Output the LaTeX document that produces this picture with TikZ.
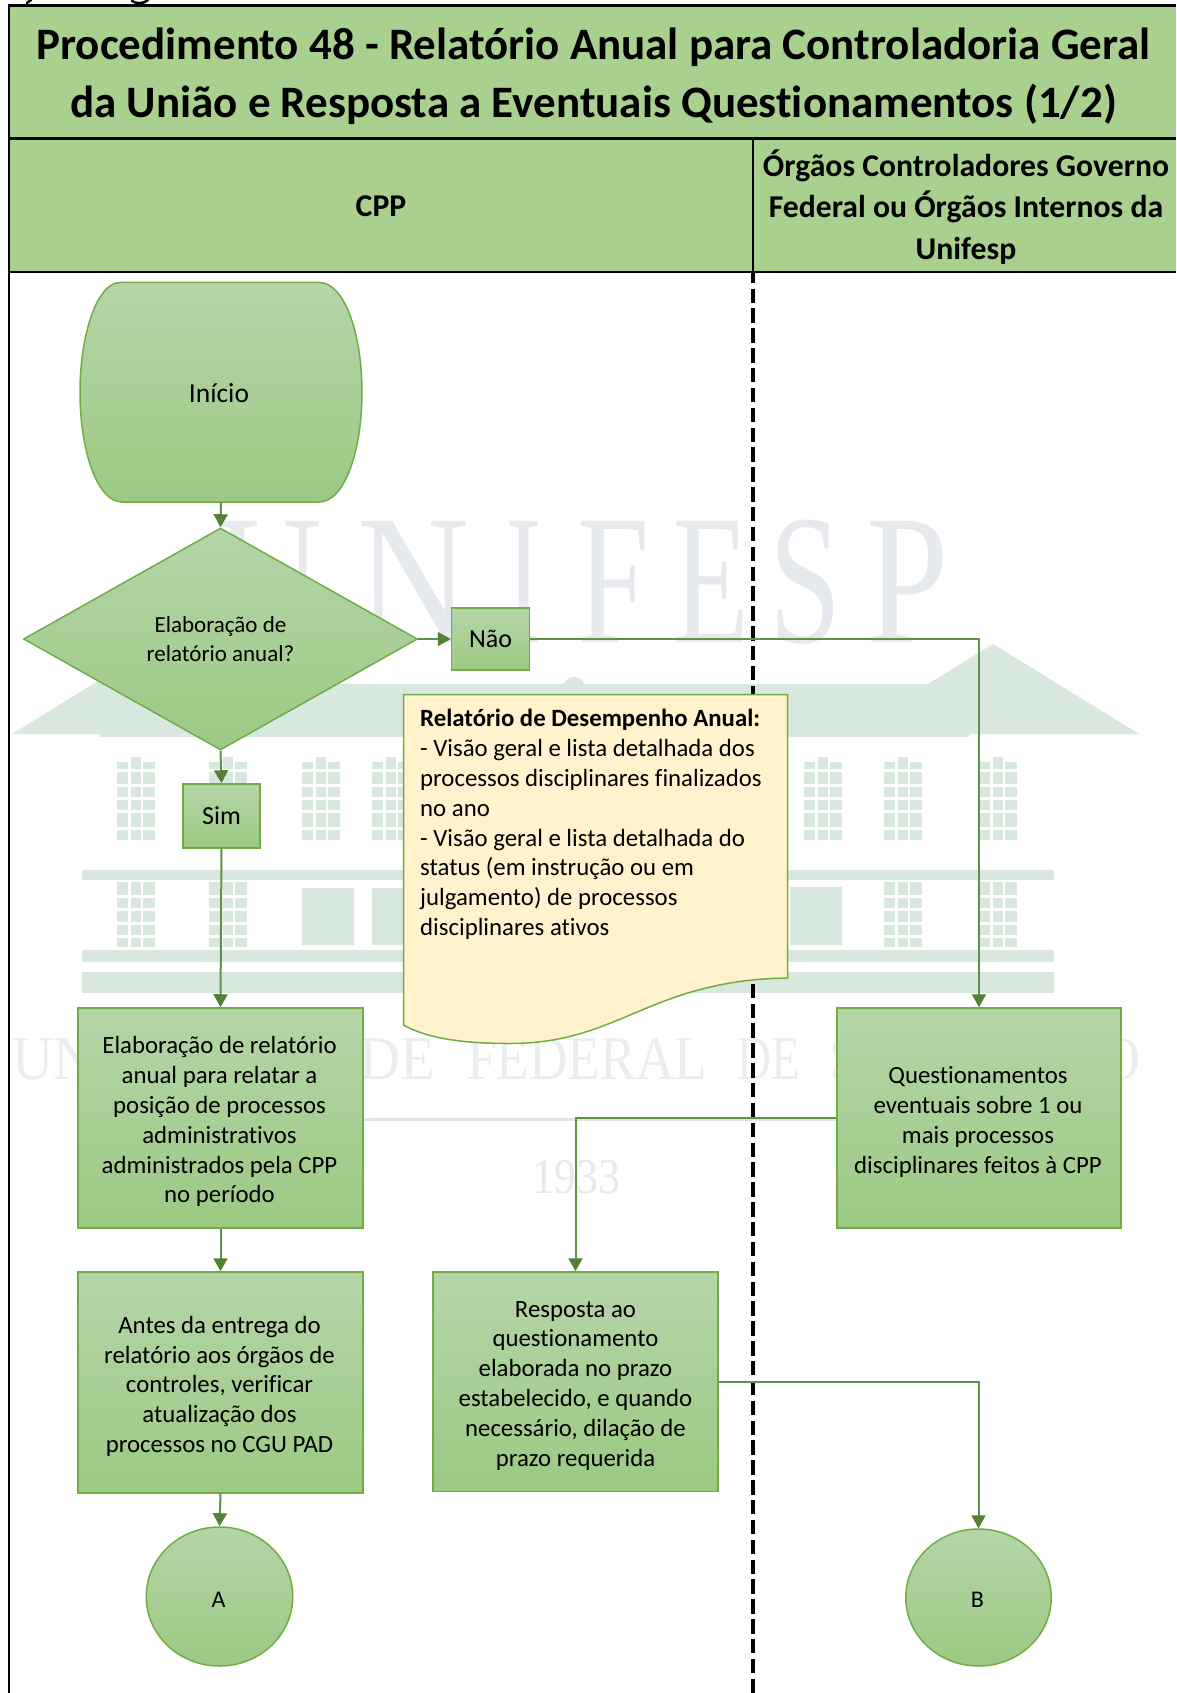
\documentclass[tikz,border=0pt]{standalone}
\usepackage{fontspec}
\usepackage{graphicx}
\setmainfont{Carlito}[Ligatures=NoCommon]
\newfontfamily\wmfont{Liberation Serif}
\usetikzlibrary{arrows.meta,shapes.geometric}
\definecolor{hdr}{HTML}{A9D08E}
\definecolor{gtop}{HTML}{B5D5A8}
\definecolor{gbot}{HTML}{9CC983}
\definecolor{gline}{HTML}{70AD47}
\definecolor{conn}{HTML}{5F9244}
\definecolor{head}{HTML}{548235}
\definecolor{docfill}{HTML}{FFF2CC}
\definecolor{wmgreen}{HTML}{D8E8DF}
\definecolor{wmgrey}{HTML}{E6EAEE}
\definecolor{wmpale}{HTML}{EBEEF1}
\tikzset{
  flowbox/.style={draw=gline,line width=1.5pt,top color=gtop,bottom color=gbot,shading angle=0,inner sep=0pt,align=center},
  boxtext/.style={inner sep=0pt,align=center,font=\fontsize{24.8}{29.8}\selectfont},
  smallbox/.style={flowbox,font=\fontsize{26}{30}\selectfont},
  headtext/.style={inner sep=0pt,align=center,font=\bfseries\fontsize{31.7}{41.5}\selectfont},
  titletext/.style={inner sep=0pt,align=center,font=\bfseries\fontsize{45}{58}\selectfont},
  conline/.style={draw=conn,line width=2pt,-{Triangle[length=13pt,width=14pt,fill=head,color=head]}},
  blackline/.style={draw=black,line width=2.5pt},
  wm/.style={fill=wmgreen,draw=none},
  wmletter/.style={inner sep=0pt,anchor=base,text=wmgrey,font=\wmfont\fontsize{185}{185}\selectfont},
  wmword/.style={inner sep=0pt,anchor=base west,text=wmpale,font=\wmfont\fontsize{62}{62}\selectfont}
}
\newcommand{\wmupper}[1]{%
  \begin{scope}[shift={(#1,757)}]
    \foreach \xa/\xb in {0/11,26/38}{\fill[wm] (\xa,4.5) rectangle (\xb,12);}
    \fill[wm] (13.5,0) rectangle (23.5,12);
    \foreach \ya/\yb in {15/27,30/40,42.5/52.5,56/70,73/83}{
      \foreach \xa/\xb in {0/11,13.5/23.5,26/38}{\fill[wm] (\xa,\ya) rectangle (\xb,\yb);}}
  \end{scope}}
\newcommand{\wmlower}[1]{%
  \begin{scope}[shift={(#1,882)}]
    \foreach \ya/\yb in {0/13,15.5/26,28.5/40,43/53,55.5/65}{
      \foreach \xa/\xb in {0/11,13.5/23.5,26/38}{\fill[wm] (\xa,\ya) rectangle (\xb,\yb);}}
  \end{scope}}
\begin{document}
\begin{tikzpicture}[x=1pt,y=-1pt]
\useasboundingbox (0,0) rectangle (1176,1693);
\fill[white] (0,0) rectangle (1176,1693);
% clipped remnants at the very top
\draw[line width=2.5pt,line cap=round] (31,0) -- (27,3);
\draw[line width=2.5pt,line cap=round] (132,1) .. controls (136,4) and (144,4) .. (148,0);
% watermark
\fill[wm] (12,734) -- (158,644) -- (223,684) -- (928,684) -- (993,644) -- (1139,734) -- (969,734) -- (969,737) -- (100,737) -- (100,734) -- cycle;
\fill[wm] (574,688) circle (11);
\foreach \x in {117,209,302,372,804,884,979}{\wmupper{\x}}
\foreach \x in {117,209,884,979}{\wmlower{\x}}
\fill[wm] (302,888) rectangle (354,945);
\fill[wm] (372,888) rectangle (424,945);
\fill[wm] (790,887) rectangle (842,945);
\fill[wm] (82,870) rectangle (1054,880);
\fill[wm] (82,950) rectangle (1054,962);
\fill[wm] (82,972) rectangle (1054,993);
\fill[wm] (82,1118) rectangle (1054,1120.5);
\node[wmletter] (wU) at (269,642) {\scalebox{.8}[1]{U}};
\node[wmletter] (wN) at (414,642) {\scalebox{.84}[1]{N}};
\node[wmletter] (wI) at (524,642) {\scalebox{.57}[1]{I}};
\node[wmletter] (wF) at (614,642) {\scalebox{.7}[1]{F}};
\node[wmletter] (wE) at (711,642) {\scalebox{.67}[1]{E}};
\node[wmletter] (wS) at (805,642) {\scalebox{.7}[1]{S}};
\node[wmletter] (wP) at (908,642) {\scalebox{.8}[1]{P}};
\node[wmword] (wuni) at (12,1079) {\resizebox{423pt}{\height}{UNIVERSIDADE}};
\node[wmword] (wfed) at (467,1079) {\resizebox{240pt}{\height}{FEDERAL}};
\node[wmword] (wde) at (737,1079) {\resizebox{63pt}{\height}{DE}};
\node[wmword] (wsao) at (830,1079) {\resizebox{100pt}{\height}{SÃO}};
\node[wmword] (wpau) at (960,1079) {\resizebox{180pt}{\height}{PAULO}};
\node[inner sep=0pt,anchor=base,text=wmgrey,font=\wmfont\fontsize{50}{50}\selectfont] (wyear) at (576,1193) {\scalebox{.88}[1]{1933}};
% header bands
\fill[hdr] (9,5.5) rectangle (1176,272);
\node[titletext] (title) at (593.5,75.8) {Procedimento 48 - Relatório Anual para Controladoria Geral\\da União e Resposta a Eventuais Questionamentos (1/2)};
\node[headtext] (cpp) at (381,206) {CPP};
\node[headtext] (org) at (966,207) {Órgãos Controladores Governo\\Federal ou Órgãos Internos da\\Unifesp};
\draw[blackline] (9,5.5) -- (1176,5.5);
\draw[blackline] (9,138.5) -- (1176,138.5);
\draw[blackline] (9,272) -- (1176,272);
\draw[draw=black,line width=2pt] (9,4.5) -- (9,1693);
\draw[draw=black,line width=1.5pt] (753,138.5) -- (753,272);
\draw[draw=black,line width=3.5pt,dash pattern=on 14.4pt off 5.46pt,dash phase=4.3pt] (753,273) -- (753,1693);
% shapes
\path[draw=gline,line width=1.5pt,top color=gtop,bottom color=gbot]
  (120,282.5) -- (319,282.5) .. controls (345,282.5) and (362,335) .. (362,392)
  .. controls (362,450) and (345,502) .. (319,502) -- (122,502)
  .. controls (97,502) and (80,450) .. (80,392)
  .. controls (80,335) and (97,282.5) .. (120,282.5) -- cycle;
\node[inner sep=0pt,minimum width=282pt,minimum height=219.5pt] (inicio) at (221,392.5) {};
\node[inner sep=0pt,font=\fontsize{27.5}{30}\selectfont] (iniciot) at (219,393) {Início};
\node[flowbox,shape=diamond,shape aspect=1.775,minimum width=394pt,minimum height=222pt,font=\fontsize{23}{29}\selectfont] (dia) at (220.5,639) {Elaboração de\\relatório anual?};
\node[smallbox,minimum width=78pt,minimum height=62pt] (nao) at (490.5,639) {Não};
\node[smallbox,minimum width=77pt,minimum height=64pt] (sim) at (221.5,816) {Sim};
\node[flowbox,minimum width=285pt,minimum height=220pt] (elab) at (220.5,1118) {};
\node[boxtext] (elabt) at (219.5,1121.8) {Elaboração de relatório\\anual para relatar a\\posição de processos\\administrativos\\administrados pela CPP\\no período};
\node[flowbox,minimum width=284pt,minimum height=220pt] (quest) at (979,1118) {};
\node[boxtext] (questt) at (978,1121.8) {Questionamentos\\eventuais sobre 1 ou\\mais processos\\disciplinares feitos à CPP};
\node[flowbox,minimum width=285pt,minimum height=221pt] (antes) at (220.5,1382.5) {};
\node[boxtext] (antest) at (219.5,1386.3) {Antes da entrega do\\relatório aos órgãos de\\controles, verificar\\atualização dos\\processos no CGU PAD};
\node[flowbox,minimum width=285pt,minimum height=219.5pt] (resp) at (575.5,1381.75) {};
\node[boxtext] (respt) at (575.5,1385.7) {Resposta ao\\questionamento\\elaborada no prazo\\estabelecido, e quando\\necessário, dilação de\\prazo requerida};
\node[flowbox,shape=ellipse,minimum width=146.5pt,minimum height=139pt] (ca) at (219.5,1596.5) {};
\node[inner sep=0pt,font=\fontsize{24}{29}\selectfont] (cat) at (218.5,1599.5) {A};
\node[flowbox,shape=ellipse,minimum width=145.5pt,minimum height=137pt] (cb) at (978.5,1597.5) {};
\node[inner sep=0pt,font=\fontsize{24}{29}\selectfont] (cbt) at (977.5,1599.5) {B};
% document
\path[draw=gline,line width=1.5pt,fill=docfill]
  (403.5,694.5) -- (787.5,694.5) -- (787.5,978)
  .. controls (650,980) and (620,1043.5) .. (510,1043.5)
  .. controls (470,1043.5) and (430,1040) .. (403.5,1025) -- cycle;
\node[inner sep=0pt,anchor=west,align=left,font=\fontsize{24.8}{29.8}\selectfont] (doc) at (420,824.5) {\textbf{Relatório de Desempenho Anual:}\\- Visão geral e lista detalhada dos\\processos disciplinares finalizados\\no ano\\- Visão geral e lista detalhada do\\status (em instrução ou em\\julgamento) de processos\\disciplinares ativos};
% connectors
\draw[conline] (inicio.south) -- (dia.north);
\draw[conline] (dia.east) -- (nao.west);
\draw[conline] (dia.south) -- (sim.north);
\draw[conline] (sim.south) -- (elab.north);
\draw[conline] (nao.east) -| (quest.north);
\draw[conline] (elab.south) -- (antes.north);
\draw[conline] (antes.south) -- (ca.north);
\draw[conline] (quest.west) -| (resp.north);
\draw[conline] (resp.east) -| (cb.north);
\end{tikzpicture}
\end{document}
